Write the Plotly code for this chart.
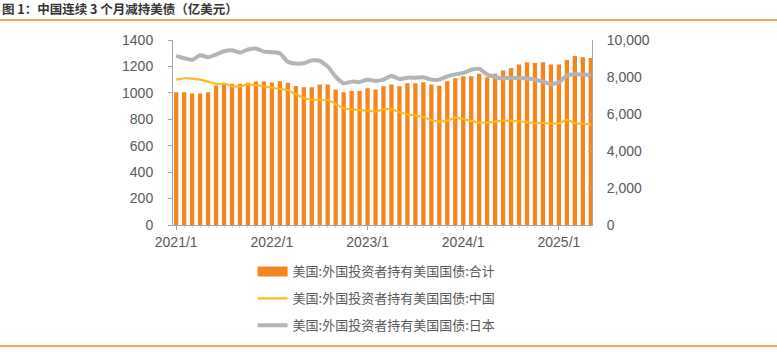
import plotly.graph_objects as go

months = [f"{y}/{m}" for y in range(2021, 2026) for m in range(1, 13)][:53]

total = [7180, 7180, 7110, 7110, 7180, 7540, 7610, 7630, 7630, 7685, 7755, 7755,
         7700, 7775, 7690, 7515, 7450, 7450, 7590, 7590, 7320, 7180, 7250, 7250,
         7390, 7325, 7505, 7595, 7505, 7665, 7665, 7720, 7595, 7525, 7775, 7935,
         8045, 8045, 8170, 7990, 8170, 8350, 8490, 8670, 8795, 8760, 8795, 8670,
         8670, 8920, 9140, 9065, 9030]

china = [1100, 1110, 1108, 1100, 1085, 1068, 1070, 1050, 1048, 1065, 1058, 1050,
         1040, 1030, 1020, 990, 960, 948, 948, 946, 915, 883, 875, 870,
         865, 860, 875, 875, 855, 838, 830, 815, 795, 782, 790, 812,
         800, 788, 775, 775, 782, 790, 788, 785, 778, 770, 772, 768,
         770, 795, 772, 765, 762]

japan = [1280, 1262, 1250, 1285, 1270, 1290, 1315, 1322, 1305, 1328, 1336, 1312,
         1308, 1300, 1235, 1222, 1224, 1245, 1243, 1200, 1122, 1072, 1085, 1082,
         1100, 1090, 1100, 1130, 1105, 1115, 1115, 1118, 1100, 1100, 1125, 1140,
         1150, 1175, 1182, 1140, 1120, 1108, 1115, 1112, 1110, 1100, 1085, 1065,
         1080, 1130, 1140, 1138, 1135]

tick_labels = ["2021/1", "2022/1", "2023/1", "2024/1", "2025/1"]
names = ["美国:外国投资者持有美国国债:合计", "美国:外国投资者持有美国国债:中国", "美国:外国投资者持有美国国债:日本"]

BAR_C = "#F5861F"
CN_C = "#FDBA21"
JP_C = "#B4B4B4"
TXT = "#595959"
AX = "#A6A6A6"
FONT = "Noto Sans CJK SC, Liberation Sans, sans-serif"

idx = list(range(len(months)))
tick_idx = [months.index(t) for t in tick_labels]

fig = go.Figure()
fig.add_trace(go.Bar(x=idx, y=total, marker_color=BAR_C, marker_line_width=0,
                     yaxis="y", showlegend=False, name=names[0]))
# legend entry for the bar series (wide swatch)
fig.add_trace(go.Scatter(x=[None], y=[None], mode="lines", line=dict(color=BAR_C, width=10),
                         name=names[0], legendgroup="a", yaxis="y"))
fig.add_trace(go.Scatter(x=idx, y=china, mode="lines", name=names[1], legendgroup="b",
                         line=dict(color=CN_C, width=2.2, shape="spline", smoothing=0.5),
                         yaxis="y2"))
fig.add_trace(go.Scatter(x=idx, y=japan, mode="lines", name=names[2], legendgroup="c",
                         line=dict(color=JP_C, width=4, shape="spline", smoothing=0.5),
                         yaxis="y2"))

fig.update_layout(
    width=777, height=356,
    margin=dict(l=173, r=185, t=40, b=131),
    paper_bgcolor="white", plot_bgcolor="white",
    font=dict(family=FONT, color=TXT, size=13),
    bargap=0.46,
    showlegend=True,
    legend=dict(x=0.19, y=-0.17, xanchor="left", yanchor="top", orientation="v",
                traceorder="grouped", tracegroupgap=7,
                font=dict(family=FONT, size=13, color=TXT), bgcolor="rgba(0,0,0,0)"),
    xaxis=dict(range=[-0.4, 52.15], tickvals=tick_idx, ticktext=tick_labels,
               showgrid=False, zeroline=False, showline=True, linecolor=AX, linewidth=1,
               ticks="outside", ticklen=4, tickcolor=AX,
               minor=dict(dtick=1, tick0=0, ticks="outside", ticklen=2, tickcolor="#D0D0D0"),
               tickfont=dict(family="Liberation Sans, Arial, sans-serif", size=14, color=TXT)),
    yaxis=dict(range=[0, 10000], dtick=2000, tickformat=",", side="right",
               showgrid=False, zeroline=False, showline=True, linecolor=AX, linewidth=1,
               ticks="inside", ticklen=4, tickcolor=AX, ticklabelstandoff=11,
               tickfont=dict(family="Liberation Sans, Arial, sans-serif", size=14, color=TXT)),
    yaxis2=dict(range=[0, 1400], dtick=200, side="left", overlaying="y",
                showgrid=False, zeroline=False, showline=True, linecolor=AX, linewidth=1,
                ticks="outside", ticklen=4, tickcolor=AX, ticklabelstandoff=12,
                tickfont=dict(family="Liberation Sans, Arial, sans-serif", size=14, color=TXT)),
)

# header title and rules
fig.add_annotation(text="<b>图 1：中国连续 3 个月减持美债（亿美元）</b>", xref="paper", yref="paper",
                   x=(0 - 173) / 419, y=(225 - 9) / 185, xanchor="left", yanchor="middle",
                   showarrow=False, font=dict(family=FONT, size=12.5, color="#333333"))
fig.add_shape(type="line", xref="paper", yref="paper",
              x0=(0 - 173) / 419, x1=(777 - 173) / 419, y0=(225 - 20) / 185, y1=(225 - 20) / 185,
              line=dict(color="#F0822C", width=1.5))
fig.add_shape(type="line", xref="paper", yref="paper",
              x0=(0 - 173) / 419, x1=(777 - 173) / 419, y0=(225 - 346) / 185, y1=(225 - 346) / 185,
              line=dict(color="#F0822C", width=1.5))

fig.write_html("out.html", config={"displayModeBar": False},
               post_script="document.body.style.margin='0';document.body.style.overflow='hidden';")
